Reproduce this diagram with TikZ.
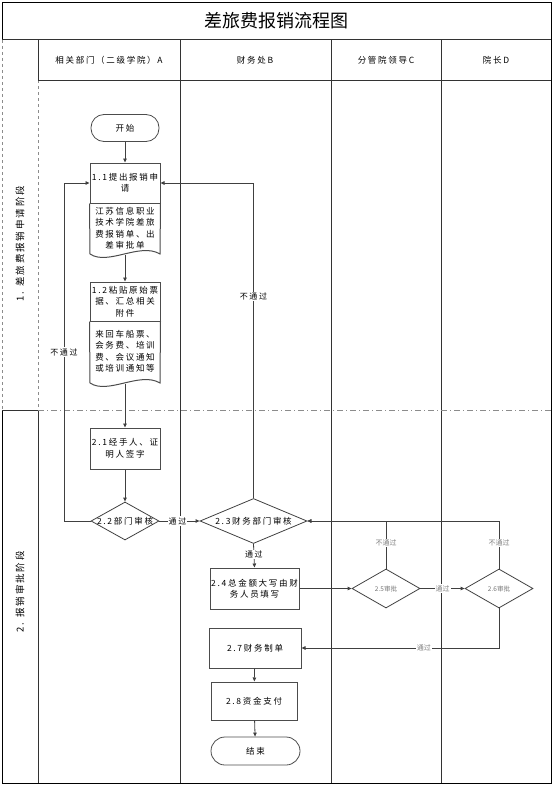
\documentclass[tikz,border=0pt]{standalone}
\usepackage{fontspec}
\setmainfont{Noto Sans CJK SC}
\newfontfamily\spaced[LetterSpace=20]{Noto Sans CJK SC}
\usetikzlibrary{shapes.geometric,arrows.meta}

\tikzset{
  lane/.style={draw=black!80, line width=1pt},
  thinlane/.style={draw=black!45, line width=0.8pt, dashed},
  phaseline/.style={draw=black!45, line width=0.8pt, dash pattern=on 6pt off 3pt on 1pt off 3pt},
  hdr/.style={font=\spaced\fontsize{8.5}{10}\selectfont},
  phase/.style={rotate=90, font=\spaced\fontsize{9.5}{11}\selectfont},
  procbox/.style={draw=black!70, line width=1pt, minimum width=70pt, align=center, inner sep=1pt, font=\spaced\fontsize{8.5}{11.5}\selectfont},
  bodytxt/.style={align=center, inner sep=0pt, font=\spaced\fontsize{8.5}{11.5}\selectfont},
  docline/.style={draw=black!70, line width=1pt},
  decision/.style={diamond, draw=black!75, line width=0.8pt, inner sep=0pt},
  diatxt/.style={font=\spaced\fontsize{8.5}{10}\selectfont},
  smalltxt/.style={text=black!55, font=\fontsize{6.5}{8}\selectfont},
  term/.style={draw=black!70, line width=0.8pt, rounded corners=13pt, minimum width=68pt, minimum height=27pt, font=\spaced\fontsize{8.5}{10}\selectfont},
  flow/.style={draw=black!75, line width=0.8pt, -{Triangle[length=4pt,width=3.5pt]}},
  passlbl/.style={fill=white, inner sep=1pt, font=\spaced\fontsize{8}{10}\selectfont},
  greylbl/.style={fill=white, inner sep=1pt, text=black!50, font=\fontsize{7}{9}\selectfont},
}

\begin{document}
\begin{tikzpicture}[x=1pt,y=-1pt]
\useasboundingbox (0,0) rectangle (559,792);

% Draw the frame and the title row
\draw[black, line width=1pt] (2,40) -- (2,3) -- (551,3) -- (551,783) -- (2,783) -- (2,410);
\draw[thinlane] (2,40) -- (2,410);
\draw[lane] (2,40) -- (551,40);
\node[font=\fontsize{18}{20}\selectfont] (title) at (276,21) {差旅费报销流程图};

% Draw the lanes
\draw[lane] (38,40) -- (38,80);
\draw[thinlane] (38,80) -- (38,410);
\draw[lane] (38,410) -- (38,783);
\draw[lane] (180,40) -- (180,783);
\draw[lane] (331,40) -- (331,783);
\draw[lane] (441,40) -- (441,783);
\draw[lane] (38,80) -- (551,80);

% Lane headers
\node[hdr] (laneA) at (109,60) {相关部门（二级学院）A};
\node[hdr] (laneB) at (255,60) {财务处B};
\node[hdr] (laneC) at (386,60) {分管院领导C};
\node[hdr] (laneD) at (496,60) {院长D};

% Draw the phases
\draw[lane] (2,410) -- (38,410);
\draw[phaseline] (38,410) -- (551,410);
\node[phase] (ph1) at (20,244) {1. 差旅费报销申请阶段};
\node[phase] (ph2) at (20,592) {2. 报销审批阶段};

% Phase 1
\node[term] (start) at (125,128) {开始};

\node[procbox, minimum height=40pt] (n11) at (125,183) {1.1提出报销申\\请};
\node[bodytxt] (n11b) at (125,228) {江苏信息职业\\技术学院差旅\\费报销单、出\\差审批单};
\draw[docline] (n11.south west) -- (90,254) .. controls (108,266) and (140,242) .. (160,254) -- (n11.south east);
\coordinate (w11) at (125,255);

\node[procbox, minimum height=39pt] (n12) at (125,301.5) {1.2粘贴原始票\\据、汇总相关\\附件};
\node[bodytxt] (n12b) at (125,351) {来回车船票、\\会务费、培训\\费、会议通知\\或培训通知等};
\draw[docline] (n12.south west) -- (90,383) .. controls (108,395) and (140,371) .. (160,383) -- (n12.south east);
\coordinate (w12) at (125,384);

% Phase 2
\node[procbox, minimum height=41pt] (n21) at (125,448.5) {2.1经手人、证\\明人签字};
\node[decision, minimum width=68pt, minimum height=38pt, label={[diatxt]center:2.2部门审核}] (n22) at (125,521) {};
\node[decision, minimum width=107pt, minimum height=45pt, label={[diatxt]center:2.3财务部门审核}] (n23) at (253.5,521) {};
\node[procbox, minimum width=89pt, minimum height=41pt] (n24) at (254.5,588.5) {2.4总金额大写由财\\务人员填写};
\node[decision, minimum width=68pt, minimum height=39pt, label={[smalltxt]center:2.5审批}] (n25) at (386,588.5) {};
\node[decision, minimum width=68pt, minimum height=39pt, label={[smalltxt]center:2.6审批}] (n26) at (499,588.5) {};
\node[procbox, minimum width=92pt, minimum height=40pt] (n27) at (255,648) {2.7财务制单};
\node[procbox, minimum width=86pt, minimum height=38pt] (n28) at (254,701) {2.8资金支付};
\node[term, minimum width=89pt, minimum height=28pt, rounded corners=14pt] (stop) at (255.5,751) {结束};

\coordinate (back22) at (64,521);

% Connectors
\draw[flow] (start) -- (n11);
\draw[flow] (w11) -- (n12);
\draw[flow] (w12) -- (n21);
\draw[flow] (n21) -- (n22);
\draw[flow] (n22.west) -- (back22) |- (n11.west) node[passlbl, pos=0.25] {不通过};
\draw[flow] (n22.east) -- (n23.west) node[passlbl, pos=0.45] {通过};
\draw[flow] (n23.north) |- (n11.east) node[passlbl, pos=0.32] {不通过};
\draw[flow] (n23.south) -- (n24.north) node[passlbl, pos=0.45] {通过};
\draw[flow] (n24.east) -- (n25.west);
\draw[flow] (n25.north) |- (n23.east) node[greylbl, pos=0.27] {不通过};
\draw[flow] (n26.north) |- (n23.east) node[greylbl, pos=0.27] {不通过};
\draw[flow] (n25.east) -- (n26.west) node[greylbl, pos=0.5] {通过};
\draw[flow] (n26.south) |- (n27.east) node[greylbl, pos=0.69] {通过};
\draw[flow] (n27) -- (n28);
\draw[flow] (n28) -- (stop);
\end{tikzpicture}
\end{document}
